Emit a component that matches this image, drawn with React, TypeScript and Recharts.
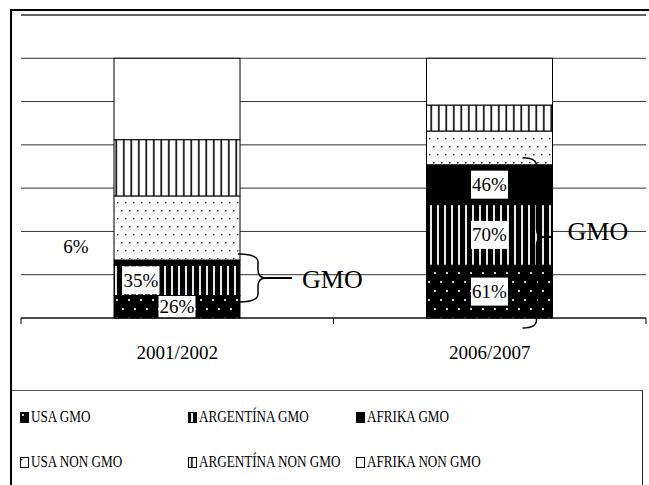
import React from "react";
import { BarChart, Bar, XAxis, YAxis, CartesianGrid, Legend, ReferenceLine } from "recharts";

const periods = ["2001/2002", "2006/2007"];
const usaGmo = [5.2, 12.2];
const argGmo = [7.0, 14.0];
const afrGmo = [1.2, 9.2];
const usaNon = [14.8, 7.8];
const argNon = [13.0, 6.0];
const afrNon = [18.8, 10.8];
const yTicks = [0, 10, 20, 30, 40, 50, 60, 70];

const data = periods.map((period, i) => ({
  period,
  usaGmo: usaGmo[i],
  argGmo: argGmo[i],
  afrGmo: afrGmo[i],
  usaNon: usaNon[i],
  argNon: argNon[i],
  afrNon: afrNon[i],
}));

const series = [
  { key: "usaGmo", name: "USA GMO", fill: "url(#pUsaGmo)" },
  { key: "argGmo", name: "ARGENTÍNA GMO", fill: "url(#pArgGmo)" },
  { key: "afrGmo", name: "AFRIKA GMO", fill: "#000" },
  { key: "usaNon", name: "USA NON GMO", fill: "url(#pUsaNon)" },
  { key: "argNon", name: "ARGENTÍNA NON GMO", fill: "url(#pArgNon)" },
  { key: "afrNon", name: "AFRIKA NON GMO", fill: "#fff" },
];

const W = 649;
const H = 485;
const M = { top: 15, right: 3, bottom: 127, left: 21 };
const X_AXIS_H = 40;
const PLOT_BOTTOM = H - M.bottom - X_AXIS_H;
const BAND = (W - M.left - M.right) / periods.length;
const FONT = '"Liberation Serif", "Times New Roman", serif';

const pct = (gmo: number, non: number) => Math.round((gmo / (gmo + non)) * 100) + "%";

const Seg = (p: any) => (
  <rect x={p.x} y={p.y} width={p.width} height={p.height} fill={p.fill} stroke="#000" strokeWidth={1} />
);

const Tag = ({ cx, cy, text, boxH }: any) => (
  <g>
    {boxH > 0 && <rect x={cx - 18.5} y={cy - boxH / 2} width={37} height={boxH} fill="#fff" />}
    <text x={cx} y={cy} dy="0.34em" textAnchor="middle" fontSize={19} fontFamily={FONT} fill="#000">
      {text}
    </text>
  </g>
);

const UsaGmoShape = (p: any) => (
  <g>
    <Seg {...p} />
    <Tag
      cx={p.x + p.width / 2}
      cy={p.y + p.height / 2}
      text={pct(p.payload.usaGmo, p.payload.usaNon)}
      boxH={Math.min(28, p.height - 1)}
    />
  </g>
);

const ArgGmoShape = (p: any) => (
  <g>
    <Seg {...p} />
    <Tag
      cx={p.index === 0 ? p.x + 27 : p.x + p.width / 2}
      cy={p.y + p.height / 2}
      text={pct(p.payload.argGmo, p.payload.argNon)}
      boxH={Math.min(28, p.height - 1)}
    />
  </g>
);

const AfrGmoShape = (p: any) => {
  const small = p.height < 12;
  return (
    <g>
      <Seg {...p} />
      <Tag
        cx={small ? p.x - 38 : p.x + p.width / 2}
        cy={small ? p.y - 13 : p.y + p.height / 2}
        text={pct(p.payload.afrGmo, p.payload.afrNon)}
        boxH={small ? 0 : 28}
      />
    </g>
  );
};

// top segment: also draws the GMO braces on top of the whole stack
const AfrNonShape = (p: any) => {
  const d = p.payload;
  const ppu = p.height / d.afrNon;
  const gmoTop = p.y + p.height + (d.usaNon + d.argNon) * ppu;
  const base = gmoTop + (d.usaGmo + d.argGmo + d.afrGmo) * ppu;
  const argMid = base - (d.usaGmo + d.argGmo / 2) * ppu;
  const right = p.x + p.width;
  const b =
    p.index === 0
      ? { top: gmoTop - 6, bottom: base - 16, spine: right + 18, arm: right - 2, tip: right + 26, stem: right + 52, tx: right + 62 }
      : { top: gmoTop - 7, bottom: base + 10, spine: right - 16, arm: right - 30, tip: right - 8, stem: right, tx: right + 15 };
  const tipY = p.index === 0 ? (b.top + b.bottom) / 2 : argMid + 2;
  const textY = p.index === 0 ? tipY + 1 : argMid - 4;
  const r = 8;
  const path = `M${b.arm},${b.top} Q${b.spine},${b.top} ${b.spine},${b.top + r} L${b.spine},${tipY - r} Q${b.spine},${tipY} ${b.tip},${tipY} Q${b.spine},${tipY} ${b.spine},${tipY + r} L${b.spine},${b.bottom - r} Q${b.spine},${b.bottom} ${b.arm},${b.bottom}`;
  return (
    <g>
      <Seg {...p} />
      <path d={path} fill="none" stroke="#000" strokeWidth={1.5} />
      <line x1={b.tip} x2={b.stem} y1={tipY} y2={tipY} stroke="#000" strokeWidth={2} />
      <text x={b.tx} y={textY} dy="0.35em" fontSize={26} fontFamily={FONT} fill="#000">
        GMO
      </text>
    </g>
  );
};

const shapes: Record<string, any> = {
  usaGmo: UsaGmoShape,
  argGmo: ArgGmoShape,
  afrGmo: AfrGmoShape,
  usaNon: Seg,
  argNon: Seg,
  afrNon: AfrNonShape,
};

const PeriodTick = (p: any) => (
  <g>
    <line x1={p.x - BAND / 2} x2={p.x - BAND / 2} y1={PLOT_BOTTOM} y2={PLOT_BOTTOM + 6} stroke="#000" />
    <line x1={p.x + BAND / 2} x2={p.x + BAND / 2} y1={PLOT_BOTTOM} y2={PLOT_BOTTOM + 6} stroke="#000" />
    <text x={p.x} y={PLOT_BOTTOM + 41} textAnchor="middle" fontSize={19} fontFamily={FONT} fill="#000">
      {p.payload.value}
    </text>
  </g>
);

const LegendBox = () => (
  <div
    style={{
      position: "relative",
      width: 633,
      height: 100,
      borderTop: "1px solid #555",
      borderRight: "1px solid #222",
      boxSizing: "border-box",
    }}
  >
    {series.map((s, i) => {
      const col = i % 3;
      const row = Math.floor(i / 3);
      return (
        <div
          key={s.key}
          style={{
            position: "absolute",
            left: 10 + col * 168,
            top: 18 + row * 45,
            height: 16,
            display: "flex",
            alignItems: "center",
            whiteSpace: "nowrap",
          }}
        >
          <svg width={9} height={11} style={{ display: "block" }}>
            <rect x={0.5} y={0.5} width={8} height={10} fill={s.fill} stroke="#000" />
          </svg>
          <span
            style={{
              display: "inline-block",
              marginLeft: 2,
              fontFamily: FONT,
              fontSize: 16,
              lineHeight: "16px",
              color: "#000",
              transform: "scaleX(0.82)",
              transformOrigin: "left center",
            }}
          >
            {s.name}
          </span>
        </div>
      );
    })}
  </div>
);

export default function App() {
  return (
    <div style={{ position: "absolute", left: 0, top: 0, width: W, height: H, overflow: "hidden", background: "#fff" }}>
      <svg width={0} height={0} style={{ position: "absolute" }}>
        <defs>
          <pattern id="pUsaGmo" width={12} height={18} patternUnits="userSpaceOnUse">
            <rect width={12} height={18} fill="#000" />
            <rect x={2} y={2} width={2} height={2} fill="#ccc" />
            <rect x={8} y={11} width={2} height={2} fill="#ccc" />
          </pattern>
          <pattern id="pArgGmo" width={7} height={10} patternUnits="userSpaceOnUse">
            <rect width={7} height={10} fill="#000" />
            <rect x={3} y={0} width={2} height={10} fill="#e8e8e8" />
          </pattern>
          <pattern id="pUsaNon" width={8} height={16} patternUnits="userSpaceOnUse">
            <rect width={8} height={16} fill="#fff" />
            <rect x={1} y={2} width={1.4} height={1.4} fill="#333" />
            <rect x={5} y={10} width={1.4} height={1.4} fill="#333" />
          </pattern>
          <pattern id="pArgNon" width={7.5} height={10} patternUnits="userSpaceOnUse">
            <rect width={7.5} height={10} fill="#fff" />
            <rect x={3} y={0} width={1.6} height={10} fill="#000" />
          </pattern>
        </defs>
      </svg>
      <BarChart width={W} height={H} data={data} margin={M} style={{ position: "absolute", left: 0, top: 0 }}>
        <CartesianGrid vertical={false} stroke="#333" />
        <ReferenceLine y={70} stroke="#333" />
        <XAxis
          dataKey="period"
          height={X_AXIS_H}
          axisLine={{ stroke: "#000" }}
          tickLine={false}
          tick={<PeriodTick />}
          interval={0}
        />
        <YAxis hide domain={[0, 70]} ticks={yTicks} />
        {series.map((s) => {
          const S = shapes[s.key];
          return (
            <Bar
              key={s.key}
              dataKey={s.key}
              name={s.name}
              stackId="a"
              fill={s.fill}
              stroke="#000"
              barSize={126}
              isAnimationActive={false}
              shape={(p: any) => <S {...p} fill={s.fill} />}
            />
          );
        })}
        <Legend
          layout="horizontal"
          verticalAlign="middle"
          align="center"
          width={633}
          height={100}
          wrapperStyle={{ top: 390, left: 10 }}
          content={() => <LegendBox />}
        />
      </BarChart>
      <div
        style={{
          position: "absolute",
          left: 10,
          top: 9,
          width: 700,
          height: 600,
          borderTop: "2px solid #000",
          borderLeft: "2px solid #000",
          pointerEvents: "none",
        }}
      />
    </div>
  );
}
